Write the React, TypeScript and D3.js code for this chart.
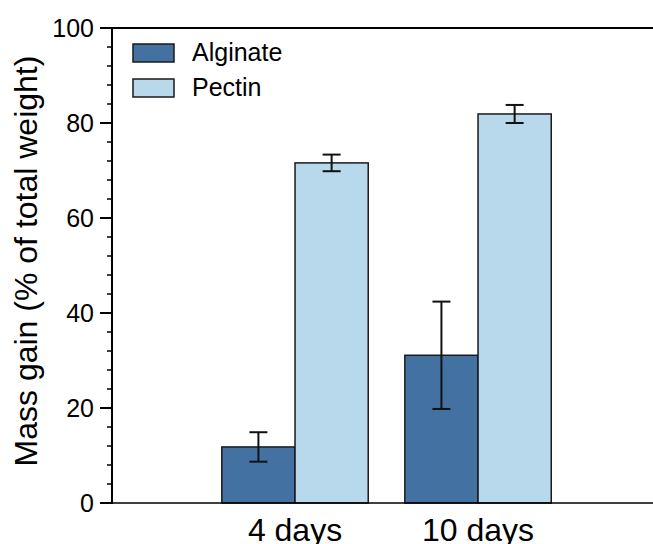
import React from "react";
import * as d3 from "d3";

const categories = ["4 days", "10 days"];
const seriesNames = ["Alginate", "Pectin"];
const alginateValues = [11.8, 31.1];
const alginateErrors = [3.1, 11.3];
const pectinValues = [71.6, 81.9];
const pectinErrors = [1.75, 1.9];
const yTicks = [0, 20, 40, 60, 80, 100];
const colors = ["#4372a2", "#b8d9eb"];

export default function App() {
  const W = 653, H = 544;
  const left = 112, top = 28, bottom = 503, right = 653;
  const y = d3.scaleLinear().domain([0, 100]).range([bottom, top]);
  const x = d3.scaleLinear().domain([0, 2.956]).range([left, right]);
  const barW = x(0.4) - x(0);
  const series = [
    { name: seriesNames[0], values: alginateValues, errors: alginateErrors, color: colors[0] },
    { name: seriesNames[1], values: pectinValues, errors: pectinErrors, color: colors[1] },
  ];
  const minorTicks = d3.range(0, 101, 4).filter((v) => v % 20 !== 0);
  const font = "'Liberation Sans', Arial, sans-serif";
  return (
    <svg width={W} height={H} style={{ position: "absolute", left: 0, top: 0 }} fontFamily={font}>
      <rect width={W} height={H} fill="#fff" />
      {series.map((s, si) =>
        s.values.map((v, ci) => {
          const cx = x(ci + 1);
          const x0 = si === 0 ? cx - barW : cx;
          return (
            <rect key={`${si}-${ci}`} x={x0} y={y(v)} width={barW} height={y(0) - y(v)}
              fill={s.color} stroke="#1a1a1a" strokeWidth={1.5} />
          );
        })
      )}
      {series.map((s, si) =>
        s.values.map((v, ci) => {
          const cx = x(ci + 1);
          const mx = si === 0 ? cx - barW / 2 : cx + barW / 2;
          const hi = y(v + s.errors[ci]);
          const lo = y(v - s.errors[ci]);
          return (
            <g key={`e${si}-${ci}`} stroke="#111" strokeWidth={2}>
              <line x1={mx} x2={mx} y1={hi} y2={lo} />
              <line x1={mx - 9} x2={mx + 9} y1={hi} y2={hi} />
              <line x1={mx - 9} x2={mx + 9} y1={lo} y2={lo} />
            </g>
          );
        })
      )}
      <line x1={left} x2={right} y1={top} y2={top} stroke="#000" strokeWidth={2} />
      <line x1={left} x2={right} y1={bottom} y2={bottom} stroke="#000" strokeWidth={1.5} />
      <line x1={left} x2={left} y1={top - 1} y2={bottom + 1} stroke="#000" strokeWidth={2} />
      {yTicks.map((t) => (
        <g key={t}>
          <line x1={left - 12} x2={left} y1={y(t)} y2={y(t)} stroke="#000" strokeWidth={2} />
          <text x={left - 18} y={y(t)} dy="0.35em" textAnchor="end" fontSize={25} fill="#000">{t}</text>
        </g>
      ))}
      {minorTicks.map((t) => (
        <line key={`m${t}`} x1={left - 5} x2={left} y1={y(t)} y2={y(t)} stroke="#000" strokeWidth={1.5} />
      ))}
      {categories.map((c, i) => (
        <text key={c} x={x(i + 1)} y={541} textAnchor="middle" fontSize={32} fill="#000">{c}</text>
      ))}
      <text transform={`translate(37, 261) rotate(-90)`} textAnchor="middle" fontSize={32} fill="#000">
        Mass gain (% of total weight)
      </text>
      {series.map((s, i) => (
        <g key={s.name} transform={`translate(133, ${44 + i * 35})`}>
          <rect x={0} y={0} width={41} height={18} fill={s.color} stroke="#1a1a1a" strokeWidth={1.5} />
          <text x={59} y={17} fontSize={25} fill="#000">{s.name}</text>
        </g>
      ))}
    </svg>
  );
}
